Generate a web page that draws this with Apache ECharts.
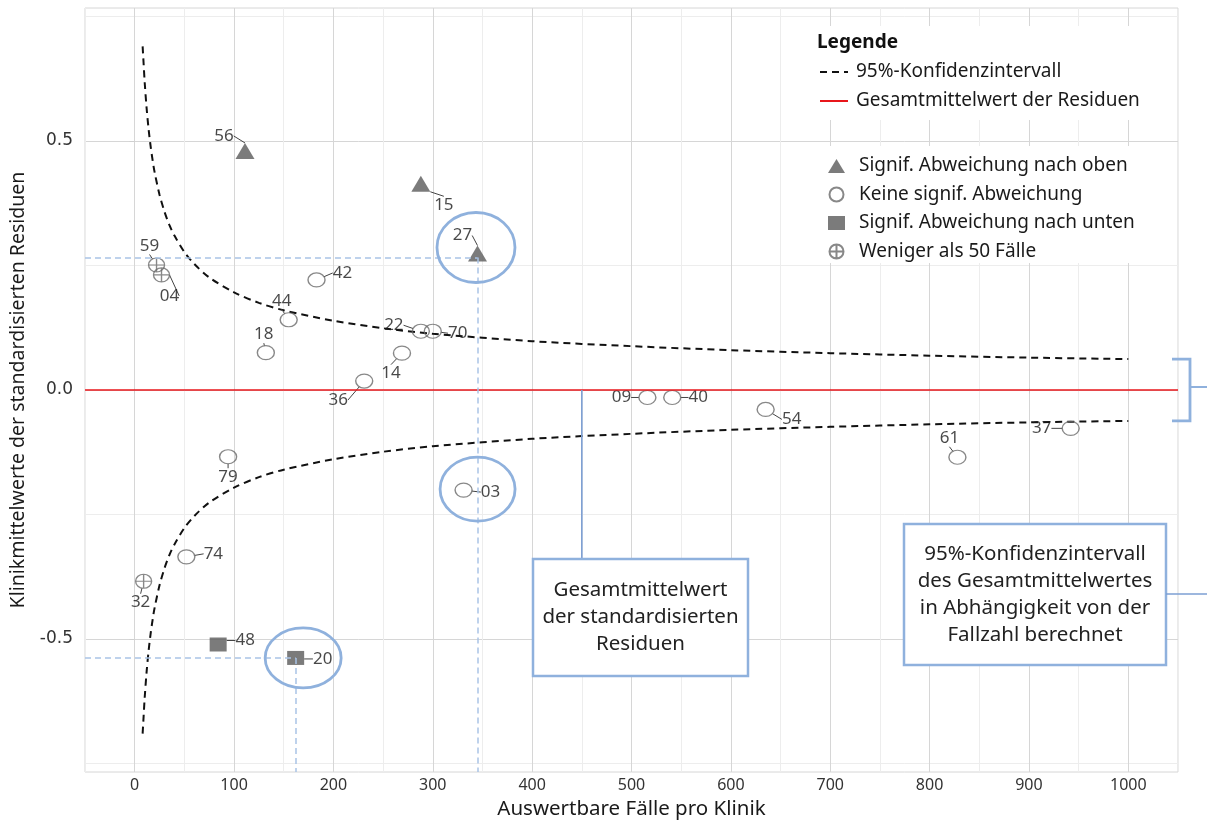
<!DOCTYPE html>
<html><head><meta charset="utf-8">
<script src="https://cdn.jsdelivr.net/npm/echarts@6/dist/echarts.min.js"></script>
<style>html,body{margin:0;padding:0;background:#fff}#chart{width:1207px;height:825px}</style>
</head><body><div id="chart"></div>
<script>
// ---------- data ----------
const upIds = ['56', '15', '27'];
const upX = [111, 288, 345];
const upY = [0.472, 0.406, 0.266];

const noneIds = ['42', '44', '18', '22', '70', '14', '36', '09', '40', '54', '61', '37', '79', '03', '74'];
const noneX = [183, 155, 132, 288, 300, 269, 231, 516, 541, 635, 828, 942, 94, 331, 52];
const noneY = [0.221, 0.141, 0.075, 0.118, 0.118, 0.074, 0.018, -0.015, -0.015, -0.039, -0.135, -0.077, -0.134, -0.201, -0.335];

const downIds = ['48', '20'];
const downX = [84, 162];
const downY = [-0.511, -0.538];

const fewIds = ['59', '04', '32'];
const fewX = [22, 27, 9];
const fewY = [0.251, 0.231, -0.384];

const ciN = [8, 9, 10, 12, 14, 16, 18, 20, 25, 30, 35, 40, 50, 60, 75, 100, 125, 150, 200, 250, 300, 400, 500, 600, 700, 800, 900, 1000];
const ciUpper = [0.69, 0.655, 0.62, 0.566, 0.524, 0.49, 0.462, 0.438, 0.392, 0.358, 0.331, 0.31, 0.277, 0.253, 0.226, 0.196, 0.175, 0.160, 0.139, 0.124, 0.113, 0.098, 0.088, 0.080, 0.074, 0.069, 0.065, 0.062];
const ciLower = [-0.69, -0.655, -0.62, -0.566, -0.524, -0.49, -0.462, -0.438, -0.392, -0.358, -0.331, -0.31, -0.277, -0.253, -0.226, -0.196, -0.175, -0.160, -0.139, -0.124, -0.113, -0.098, -0.088, -0.080, -0.074, -0.069, -0.065, -0.062];

const meanValue = 0;

const seriesNames = ['95%-Konfidenzintervall', 'Gesamtmittelwert der Residuen',
  'Signif. Abweichung nach oben', 'Keine signif. Abweichung',
  'Signif. Abweichung nach unten', 'Weniger als 50 Fälle'];

// ---------- layout / style (not data) ----------
const labelNudge = {
  '56': [-21, -15], '15': [23, 21], '27': [-15, -18],
  '59': [-7, -19], '04': [8, 21], '42': [26, -7], '44': [-7, -19], '18': [-2, -18],
  '22': [-27, -6], '70': [25, 2], '14': [-11, 20], '36': [-26, 19], '09': [-26, 0],
  '40': [26, 0], '54': [26, 10], '61': [-8, -19], '37': [-29, 0], '79': [0, 20],
  '03': [27, 2], '74': [27, -3], '32': [-3, 21], '48': [27, -4], '20': [27, 1]
};
const FONT = 'Noto Sans';
const X_MIN = -50, X_MAX = 1050, Y_MIN = -0.767, Y_MAX = 0.767;
const BLUE = '#8fb1dd';
const MARK = '#5a5a5a';
const GUIDE = '#a9c3e6';

const zip = (xs, ys) => xs.map((x, i) => [x, ys[i]]);
const pts = (ids, xs, ys) => ids.map((id, i) => ({ name: id, value: [xs[i], ys[i]] }));

const crossPath = 'path://M10,0A10,10,0,1,1,-10,0A10,10,0,1,1,10,0ZM-10,0L10,0M0,-10L0,10';

const labelCommon = {
  show: true, position: 'inside', formatter: '{b}',
  fontFamily: FONT, fontSize: 17, color: '#1a1a1a'
};
const labelLineCommon = { show: true, lineStyle: { color: '#444', width: 1 } };
const labelLayout = function (p) {
  const o = labelNudge[p.text];
  return o ? { dx: o[0], dy: o[1] } : {};
};

const idx27 = upIds.indexOf('27');
const idx20 = downIds.indexOf('20');
const guideStyle = { color: GUIDE, width: 1.5, type: [6, 4] };

const chart = echarts.init(document.getElementById('chart'));
const option = {
  animation: false,
  backgroundColor: '#fff',
  textStyle: { fontFamily: FONT },
  title: {
    text: 'Legende', left: 817, top: 33, padding: 0,
    textStyle: { fontFamily: FONT, fontSize: 19, fontWeight: 'bold', color: '#111' }
  },
  legend: [
    {
      data: seriesNames.slice(0, 2), orient: 'vertical', left: 819, top: 62, padding: 0,
      itemWidth: 28, itemHeight: 14, itemGap: 9,
      itemStyle: { opacity: 0 },
      textStyle: { fontFamily: FONT, fontSize: 19, color: '#1a1a1a', lineHeight: 20, padding: [0, 0, 0, 3] },
      selectedMode: false
    },
    {
      data: seriesNames.slice(2), orient: 'vertical', left: 828, top: 156, padding: 0,
      itemWidth: 17, itemHeight: 14, itemGap: 8.5,
      textStyle: { fontFamily: FONT, fontSize: 19, color: '#1a1a1a', lineHeight: 20, padding: [0, 0, 0, 9] },
      selectedMode: false
    }
  ],
  grid: [
    { left: 85, top: 8, width: 1093, height: 764, show: true, borderColor: '#d6d6d6', borderWidth: 1 },
    { left: 85, top: 16.5, width: 1093, height: 747 },
    { left: 134.7, top: 8, width: 993.6, height: 764 },
    { left: 85, top: 141, width: 1093, height: 498 }
  ],
  xAxis: [
    { gridIndex: 0, type: 'value', min: X_MIN, max: X_MAX, interval: 50,
      axisLabel: { show: false }, axisTick: { show: false }, axisLine: { show: false },
      splitLine: { show: true, lineStyle: { color: ['#ededed', '#d6d6d6'], width: 1 } } },
    { gridIndex: 1, type: 'value', min: X_MIN, max: X_MAX, show: false },
    { gridIndex: 2, type: 'value', min: 0, max: 1000, interval: 100, position: 'bottom',
      axisLine: { show: false }, axisTick: { show: true, length: 5, lineStyle: { color: '#cfcfcf' } },
      axisLabel: { fontFamily: FONT, fontSize: 16, color: '#333', margin: 8, formatter: v => String(v) },
      splitLine: { show: false },
      name: 'Auswertbare Fälle pro Klinik', nameLocation: 'middle', nameGap: 30,
      nameTextStyle: { fontFamily: FONT, fontSize: 20.5, color: '#1a1a1a' } },
    { gridIndex: 3, type: 'value', min: X_MIN, max: X_MAX, show: false }
  ],
  yAxis: [
    { gridIndex: 0, type: 'value', min: Y_MIN, max: Y_MAX, show: false },
    { gridIndex: 1, type: 'value', min: -0.75, max: 0.75, interval: 0.25,
      axisLabel: { show: false }, axisTick: { show: false }, axisLine: { show: false },
      splitLine: { show: true, lineStyle: { color: ['#ededed', '#d6d6d6'], width: 1 } } },
    { gridIndex: 2, type: 'value', min: Y_MIN, max: Y_MAX, show: false },
    { gridIndex: 3, type: 'value', min: -0.5, max: 0.5, interval: 0.5,
      axisLine: { show: false }, axisTick: { show: true, length: 5, lineStyle: { color: '#cfcfcf' } },
      axisLabel: { fontFamily: 'DejaVu Sans', fontSize: 17, color: '#333', margin: 12,
        formatter: v => v.toFixed(1) },
      splitLine: { show: false },
      name: 'Klinikmittelwerte der standardisierten Residuen', nameLocation: 'middle', nameGap: 54,
      nameRotate: 90,
      nameTextStyle: { fontFamily: FONT, fontSize: 19.5, color: '#1a1a1a' } }
  ],
  series: [
    { name: seriesNames[0], type: 'line', xAxisIndex: 0, yAxisIndex: 0, data: zip(ciN, ciUpper),
      smooth: 0.3, symbol: 'none', z: 3,
      itemStyle: { color: '#111' }, lineStyle: { color: '#111', width: 2, type: [7, 5] } },
    { name: seriesNames[0], type: 'line', xAxisIndex: 0, yAxisIndex: 0, data: zip(ciN, ciLower),
      smooth: 0.3, symbol: 'none', z: 3,
      itemStyle: { color: '#111' }, lineStyle: { color: '#111', width: 2, type: [7, 5] } },
    { name: seriesNames[1], type: 'line', xAxisIndex: 0, yAxisIndex: 0, data: [], symbol: 'none',
      itemStyle: { color: '#e8161b' }, lineStyle: { color: '#e8161b', width: 1.6 },
      markLine: { silent: true, symbol: ['none', 'none'], label: { show: false },
        lineStyle: { color: '#e8161b', width: 1.6, type: 'solid' },
        data: [{ yAxis: meanValue }] } },
    { name: seriesNames[2], type: 'scatter', xAxisIndex: 0, yAxisIndex: 0, z: 4,
      data: pts(upIds, upX, upY), symbol: 'triangle', symbolSize: [19, 16], symbolOffset: [0, -4],
      itemStyle: { color: MARK }, label: labelCommon, labelLine: labelLineCommon, labelLayout,
      markLine: { silent: true, symbol: ['none', 'none'], label: { show: false }, lineStyle: guideStyle,
        data: [
          [{ coord: [X_MIN, upY[idx27]] }, { coord: [upX[idx27], upY[idx27]] }],
          [{ coord: [upX[idx27], upY[idx27]] }, { coord: [upX[idx27], Y_MIN] }]
        ] } },
    { name: seriesNames[3], type: 'scatter', xAxisIndex: 0, yAxisIndex: 0, z: 4,
      data: pts(noneIds, noneX, noneY), symbol: 'circle', symbolSize: [17, 14],
      itemStyle: { color: 'rgba(255,255,255,0)', borderColor: '#6a6a6a', borderWidth: 1.3 },
      label: labelCommon, labelLine: labelLineCommon, labelLayout },
    { name: seriesNames[4], type: 'scatter', xAxisIndex: 0, yAxisIndex: 0, z: 4,
      data: pts(downIds, downX, downY), symbol: 'rect', symbolSize: [17, 14],
      itemStyle: { color: MARK }, label: labelCommon, labelLine: labelLineCommon, labelLayout,
      markLine: { silent: true, symbol: ['none', 'none'], label: { show: false }, lineStyle: guideStyle,
        data: [
          [{ coord: [X_MIN, downY[idx20]] }, { coord: [downX[idx20], downY[idx20]] }],
          [{ coord: [downX[idx20], downY[idx20]] }, { coord: [downX[idx20], Y_MIN] }]
        ] } },
    { name: seriesNames[5], type: 'scatter', xAxisIndex: 0, yAxisIndex: 0, z: 4,
      data: pts(fewIds, fewX, fewY), symbol: crossPath, symbolSize: [16, 14],
      itemStyle: { color: 'rgba(255,255,255,0)', borderColor: '#6a6a6a', borderWidth: 1.3 },
      label: labelCommon, labelLine: labelLineCommon, labelLayout }
  ]
};
chart.setOption(option);

// ---------- annotations ----------
const px = (x, y) => chart.convertToPixel({ gridIndex: 0 }, [x, y]);
const idx03 = noneIds.indexOf('03');
const p27 = px(upX[idx27], upY[idx27]);
const p03 = px(noneX[idx03], noneY[idx03]);
const p20 = px(downX[idx20], downY[idx20]);
const ell = (c, dx, dy, rx, ry) => ({
  type: 'ellipse', z: 10, silent: true,
  shape: { cx: c[0] + dx, cy: c[1] + dy, rx, ry },
  style: { fill: 'none', stroke: BLUE, lineWidth: 2.8 }
});
const boxText = (x, y, w, h, txt) => ([
  { type: 'rect', z: 10, silent: true, shape: { x, y, width: w, height: h },
    style: { fill: '#fff', stroke: BLUE, lineWidth: 2.5 } },
  { type: 'text', z: 11, silent: true, x: x + w / 2, y: y + h / 2,
    style: { text: txt, fontFamily: FONT, fontSize: 20.5, lineHeight: 27, fill: '#222',
      align: 'center', verticalAlign: 'middle' } }
]);
const pm = px(450, meanValue);
const ciTop = px(1000, ciUpper[ciUpper.length - 1]);
const ciBot = px(1000, ciLower[ciLower.length - 1]);
const graphic = [
  { type: 'rect', z: 1, silent: true, shape: { x: 808, y: 26, width: 352, height: 94 }, style: { fill: '#fff' } },
  { type: 'rect', z: 1, silent: true, shape: { x: 808, y: 146, width: 352, height: 117 }, style: { fill: '#fff' } },
  ell(p27, -1.5, -10, 39, 35),
  ell(p03, 14, -1, 37.5, 32),
  ell(p20, 7.5, 0, 38, 30),
  { type: 'line', z: 10, silent: true, shape: { x1: pm[0], y1: pm[1], x2: pm[0], y2: 559 },
    style: { stroke: '#7d9fd3', lineWidth: 1.6 } },
  ...boxText(533, 559, 215, 117, 'Gesamtmittelwert\nder standardisierten\nResiduen'),
  ...boxText(904, 524, 262, 141, '95%-Konfidenzintervall\ndes Gesamtmittelwertes\nin Abhängigkeit von der\nFallzahl berechnet'),
  { type: 'line', z: 10, silent: true, shape: { x1: 1166, y1: 594, x2: 1207, y2: 594 },
    style: { stroke: '#7d9fd3', lineWidth: 1.6 } },
  { type: 'polyline', z: 10, silent: true,
    shape: { points: [[1172, ciTop[1]], [1190, ciTop[1]], [1190, ciBot[1]], [1172, ciBot[1]]] },
    style: { fill: 'none', stroke: BLUE, lineWidth: 2.8 } },
  { type: 'line', z: 10, silent: true, shape: { x1: 1190, y1: pm[1] - 3, x2: 1207, y2: pm[1] - 3 },
    style: { stroke: BLUE, lineWidth: 2 } }
];
chart.setOption({ graphic });
</script>
</body></html>
